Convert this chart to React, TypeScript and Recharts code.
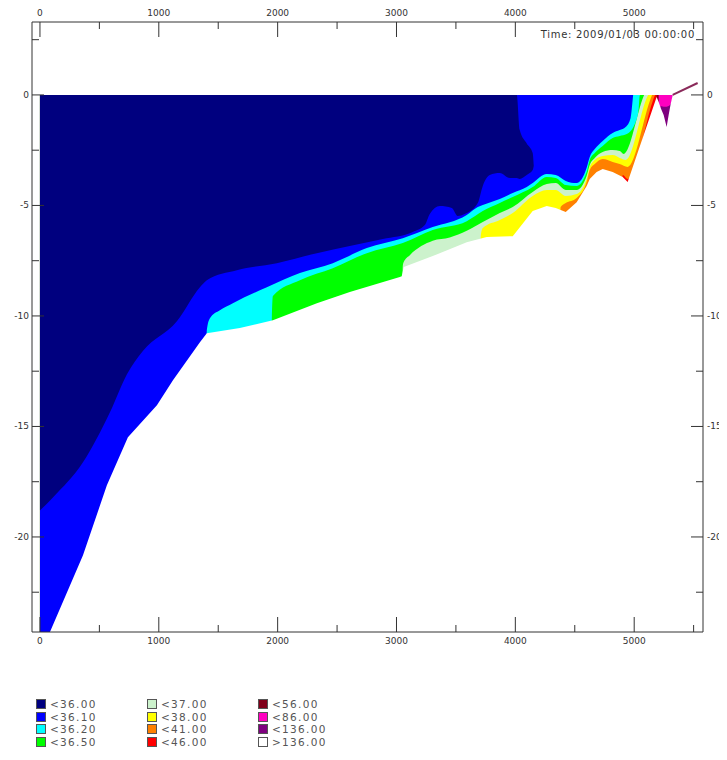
import React from "react";
import { ComposedChart, Area, Line, XAxis, YAxis } from "recharts";

const DEEP = -24.3;
const X_DOMAIN: [number, number] = [-67, 5579];
const Y_DOMAIN: [number, number] = [-24.3, 3.3];
const X_TICKS = [0, 500, 1000, 1500, 2000, 2500, 3000, 3500, 4000, 4500, 5000, 5500];
const Y_TICKS = [2.5, 0, -2.5, -5, -7.5, -10, -12.5, -15, -17.5, -20, -22.5];
const TIME_LABEL = "Time: 2009/01/03 00:00:00";

// [distance, lower depth, upper depth]
const navyBand: [number, number, number][] = [
  [0, -18.8, 0], [109, -18.21, 0], [362, -16.62, 0], [589, -14.36, 0], [732, -12.64, 0],
  [866, -11.59, 0], [1152, -10.24, 0], [1346, -8.7, 0], [1404, -8.38, 0], [1657, -7.93, 0],
  [1993, -7.61, 0], [2330, -7.16, 0], [2607, -6.84, 0], [2885, -6.52, 0], [3137, -6.2, 0],
  [3238, -5.89, 0], [3280, -5.39, 0], [3364, -5.03, 0], [3465, -5.12, 0], [3515, -5.48, 0],
  [3574, -5.39, 0], [3684, -4.89, 0], [3726, -4.12, 0], [3785, -3.62, 0], [3869, -3.53, 0],
  [3953, -3.76, 0], [4012, -3.76, 0], [4037, -3.8, -1.59], [4096, -3.62, -2.2],
  [4146, -3.4, -2.63], [4155, -3.2, -3.2],
];

// [distance, lower depth] ; upper depth is the surface (0)
const blueBand: [number, number][] = [
  [0, DEEP], [1388, DEEP], [1404, -10.64], [1430, -10.1], [1514, -9.74], [1623, -9.42],
  [1909, -8.7], [2187, -8.06], [2464, -7.61], [2750, -6.93], [3053, -6.48], [3305, -5.98],
  [3591, -5.43], [3684, -5.07], [3726, -4.98], [3869, -4.71], [3978, -4.44], [4096, -4.17],
  [4146, -3.99], [4264, -3.58], [4340, -3.62], [4424, -3.89], [4516, -3.99], [4600, -3.3],
  [4626, -2.81], [4668, -2.45], [4735, -2.08], [4819, -1.72], [4878, -1.59], [4928, -1.45],
  [4970, -1.04], [4987, -0.23], [4991, 0],
];
const cyanBand: [number, number][] = [
  [0, DEEP], [1934, DEEP], [1951, -10.14], [1960, -9.1], [2187, -8.38], [2464, -7.84],
  [2750, -7.16], [3053, -6.7], [3305, -6.11], [3591, -5.71], [3726, -5.25], [3869, -4.89],
  [3978, -4.62], [4146, -4.17], [4264, -3.71], [4340, -3.76], [4424, -4.08], [4516, -4.12],
  [4600, -3.49], [4626, -2.94], [4668, -2.63], [4735, -2.31], [4819, -1.95], [4878, -1.86],
  [4937, -1.77], [5012, -1.22], [5038, -0.59], [5046, -0.05], [5050, 0],
];
const greenBand: [number, number][] = [
  [0, DEEP], [3036, DEEP], [3053, -7.74], [3061, -7.56], [3112, -7.25], [3305, -6.6],
  [3448, -6.45], [3591, -6.15], [3726, -5.75], [3869, -5.34], [3978, -5.07], [4146, -4.39],
  [4264, -4.03], [4340, -3.99], [4424, -4.3], [4516, -4.3], [4600, -3.67], [4626, -3.17],
  [4668, -2.85], [4735, -2.58], [4819, -2.49], [4878, -2.54], [4911, -2.67], [5080, -0.05],
  [5084, 0],
];
const paleBand: [number, number][] = [
  [0, DEEP], [3684, DEEP], [3709, -6.39], [3726, -6.02], [3869, -5.66], [3978, -5.34],
  [4146, -4.57], [4264, -4.3], [4340, -4.3], [4424, -4.57], [4516, -4.48], [4600, -3.8],
  [4626, -3.26], [4668, -2.94], [4735, -2.76], [4819, -2.72], [4878, -2.85], [4928, -2.94],
  [5113, -0.05], [5118, 0],
];
const yellowBand: [number, number][] = [
  [0, DEEP], [4356, DEEP], [4381, -5.07], [4424, -4.89], [4516, -4.66], [4600, -3.94],
  [4626, -3.4], [4668, -3.13], [4735, -2.9], [4819, -3.03], [4878, -3.13], [4945, -3.26],
  [5147, -0.05], [5151, 0],
];
const orangeBand: [number, number][] = [
  [0, DEEP], [4878, DEEP], [4903, -3.62], [4945, -3.8], [5172, -0.05], [5176, 0],
];
const redBand: [number, number][] = [[0, DEEP], [5189, DEEP]];
const darkRedBand: [number, number][] = [[5172, DEEP], [5206, DEEP]];
const magentaBand: [number, number][] = [
  [5172, DEEP], [5197, DEEP], [5223, -0.5], [5257, -0.54], [5290, -0.5], [5316, -0.27],
  [5324, -0.05], [5328, 0],
];
const purpleBand: [number, number][] = [[5172, DEEP], [5328, DEEP]];

// sea bed: [distance, depth]
const seabed: [number, number][] = [
  [0, -24.3], [84, -24.3], [362, -20.83], [563, -17.66], [740, -15.49], [984, -14.04],
  [1119, -12.91], [1346, -11.19], [1404, -10.78], [1682, -10.55], [1960, -10.19],
  [2330, -9.42], [2607, -8.92], [3028, -8.24], [3044, -8.2], [3061, -7.79], [3305, -7.29],
  [3591, -6.66], [3759, -6.43], [3978, -6.39], [4146, -5.25], [4264, -5.03], [4340, -5.12],
  [4424, -5.3], [4516, -4.85], [4600, -4.12], [4626, -3.8], [4684, -3.49], [4735, -3.35],
  [4819, -3.49], [4903, -3.71], [4945, -3.94], [5189, -0.09], [5206, -0.32], [5223, -0.59],
  [5248, -0.91], [5273, -1.45], [5290, -0.91], [5307, -0.41], [5324, 0], [5579, 0],
];
const shoreLine: [number, number][] = [[5324, 0], [5534, 0.54]];

const legendLabels = [
  ["<36.00", "<36.10", "<36.20", "<36.50"],
  ["<37.00", "<38.00", "<41.00", "<46.00"],
  ["<56.00", "<86.00", "<136.00", ">136.00"],
];
const legendColors = [
  ["#00007f", "#0000ff", "#00ffff", "#00ff00"],
  ["#ccf2cc", "#ffff00", "#ff8000", "#ff0000"],
  ["#80001a", "#ff00c0", "#7f007f", "#ffffff"],
];

const toRange = (rows: [number, number][]) => rows.map(([x, lo]) => ({ x, range: [lo, 0] }));
const navyData = navyBand.map(([x, lo, hi]) => ({ x, range: [lo, hi] }));
const maskData = seabed.map(([x, y]) => ({ x, range: [DEEP, y] }));
const shoreData = shoreLine.map(([x, y]) => ({ x, y }));

const layers: { data: [number, number][]; color: string }[] = [
  { data: purpleBand, color: "#7f007f" },
  { data: magentaBand, color: "#ff00c0" },
  { data: darkRedBand, color: "#80001a" },
  { data: redBand, color: "#ff0000" },
  { data: orangeBand, color: "#ff8000" },
  { data: yellowBand, color: "#ffff00" },
  { data: paleBand, color: "#ccf2cc" },
  { data: greenBand, color: "#00ff00" },
  { data: cyanBand, color: "#00ffff" },
  { data: blueBand, color: "#0000ff" },
];

const AX = "#333";
const FONT = "DejaVu Sans, sans-serif";

const BottomTick = (p: any) => {
  const major = p.payload.value % 1000 === 0;
  return (
    <g>
      <line x1={p.x} y1={p.y} x2={p.x} y2={p.y - (major ? 15 : 7)} stroke={AX} />
      {major && (
        <text x={p.x} y={p.y + 11.5} textAnchor="middle" fontSize={9} fill={AX} fontFamily={FONT}>
          {p.payload.value}
        </text>
      )}
    </g>
  );
};
const TopTick = (p: any) => {
  const major = p.payload.value % 1000 === 0;
  return (
    <g>
      <line x1={p.x} y1={p.y} x2={p.x} y2={p.y + (major ? 15 : 7)} stroke={AX} />
      {major && (
        <text x={p.x} y={p.y - 6} textAnchor="middle" fontSize={9} fill={AX} fontFamily={FONT}>
          {p.payload.value}
        </text>
      )}
    </g>
  );
};
const LeftTick = (p: any) => {
  const major = p.payload.value % 5 === 0;
  return (
    <g>
      <line x1={p.x} y1={p.y} x2={p.x + (major ? 12 : 7)} y2={p.y} stroke={AX} />
      {major && (
        <text x={p.x - 3} y={p.y + 3} textAnchor="end" fontSize={9} fill={AX} fontFamily={FONT}>
          {p.payload.value}
        </text>
      )}
    </g>
  );
};
const RightTick = (p: any) => {
  const major = p.payload.value % 5 === 0;
  return (
    <g>
      <line x1={p.x} y1={p.y} x2={p.x - (major ? 12 : 7)} y2={p.y} stroke={AX} />
      {major && (
        <text x={p.x + 4} y={p.y + 3} textAnchor="start" fontSize={9} fill={AX} fontFamily={FONT}>
          {p.payload.value}
        </text>
      )}
    </g>
  );
};

export default function App() {
  return (
    <div style={{ position: "relative", width: 719, height: 744, fontFamily: FONT }}>
      <ComposedChart width={719} height={744} margin={{ top: 0, right: 0, bottom: 100, left: 0 }}>
        <XAxis xAxisId="b" dataKey="x" type="number" domain={X_DOMAIN} ticks={X_TICKS}
          allowDataOverflow orientation="bottom" height={20} tickSize={0} tickMargin={0}
          interval={0} axisLine={{ stroke: AX }} tickLine={false} tick={(p: any) => <BottomTick {...p} />} />
        <XAxis xAxisId="t" dataKey="x" type="number" domain={X_DOMAIN} ticks={X_TICKS}
          allowDataOverflow orientation="top" height={14} tickSize={0} tickMargin={0}
          interval={0} axisLine={{ stroke: AX }} tickLine={false} tick={(p: any) => <TopTick {...p} />} />
        <YAxis yAxisId="l" type="number" domain={Y_DOMAIN} ticks={Y_TICKS} allowDataOverflow
          orientation="left" width={24} tickSize={0} tickMargin={0} interval={0}
          axisLine={{ stroke: AX }} tickLine={false} tick={(p: any) => <LeftTick {...p} />} />
        <YAxis yAxisId="r" type="number" domain={Y_DOMAIN} ticks={Y_TICKS} allowDataOverflow
          orientation="right" width={24} tickSize={0} tickMargin={0} interval={0}
          axisLine={{ stroke: AX }} tickLine={false} tick={(p: any) => <RightTick {...p} />} />
        {layers.map((l, i) => (
          <Area key={i} data={toRange(l.data)} dataKey="range" xAxisId="b" yAxisId="l"
            type="monotoneX" stroke="none" fill={l.color} fillOpacity={1}
            isAnimationActive={false} dot={false} activeDot={false} />
        ))}
        <Area data={navyData} dataKey="range" xAxisId="b" yAxisId="l" type="monotoneX"
          stroke="none" fill="#00007f" fillOpacity={1} isAnimationActive={false} dot={false} activeDot={false} />
        <Area data={maskData} dataKey="range" xAxisId="b" yAxisId="l" type="linear"
          stroke="none" fill="#ffffff" fillOpacity={1} isAnimationActive={false} dot={false} activeDot={false} />
        <Line data={shoreData} dataKey="y" xAxisId="b" yAxisId="l" type="linear"
          stroke="#8a2a5a" strokeWidth={2} dot={false} isAnimationActive={false} />
        <Line data={shoreData} dataKey="y" xAxisId="t" yAxisId="r" type="linear"
          stroke="none" dot={false} isAnimationActive={false} />
      </ComposedChart>
      <div style={{ position: "absolute", right: 32, top: 21, fontSize: 10, lineHeight: "12px",
        color: "#333", letterSpacing: 0.7, whiteSpace: "nowrap" }}>{TIME_LABEL}</div>
      {legendLabels.map((col, ci) =>
        col.map((lab, ri) => (
          <div key={ci + "-" + ri} style={{ position: "absolute", left: 28 + ci * 111, top: 690 + ri * 12.5,
            height: 12, display: "flex", alignItems: "center", whiteSpace: "nowrap" }}>
            <span style={{ display: "inline-block", width: 8, height: 8, background: legendColors[ci][ri],
              border: "1px solid #555", marginRight: 4 }} />
            <span style={{ display: "inline-block", height: 12, overflow: "hidden", fontSize: 10.5,
              color: "#555", lineHeight: "12px", letterSpacing: 1.3 }}>{lab}</span>
          </div>
        ))
      )}
    </div>
  );
}
